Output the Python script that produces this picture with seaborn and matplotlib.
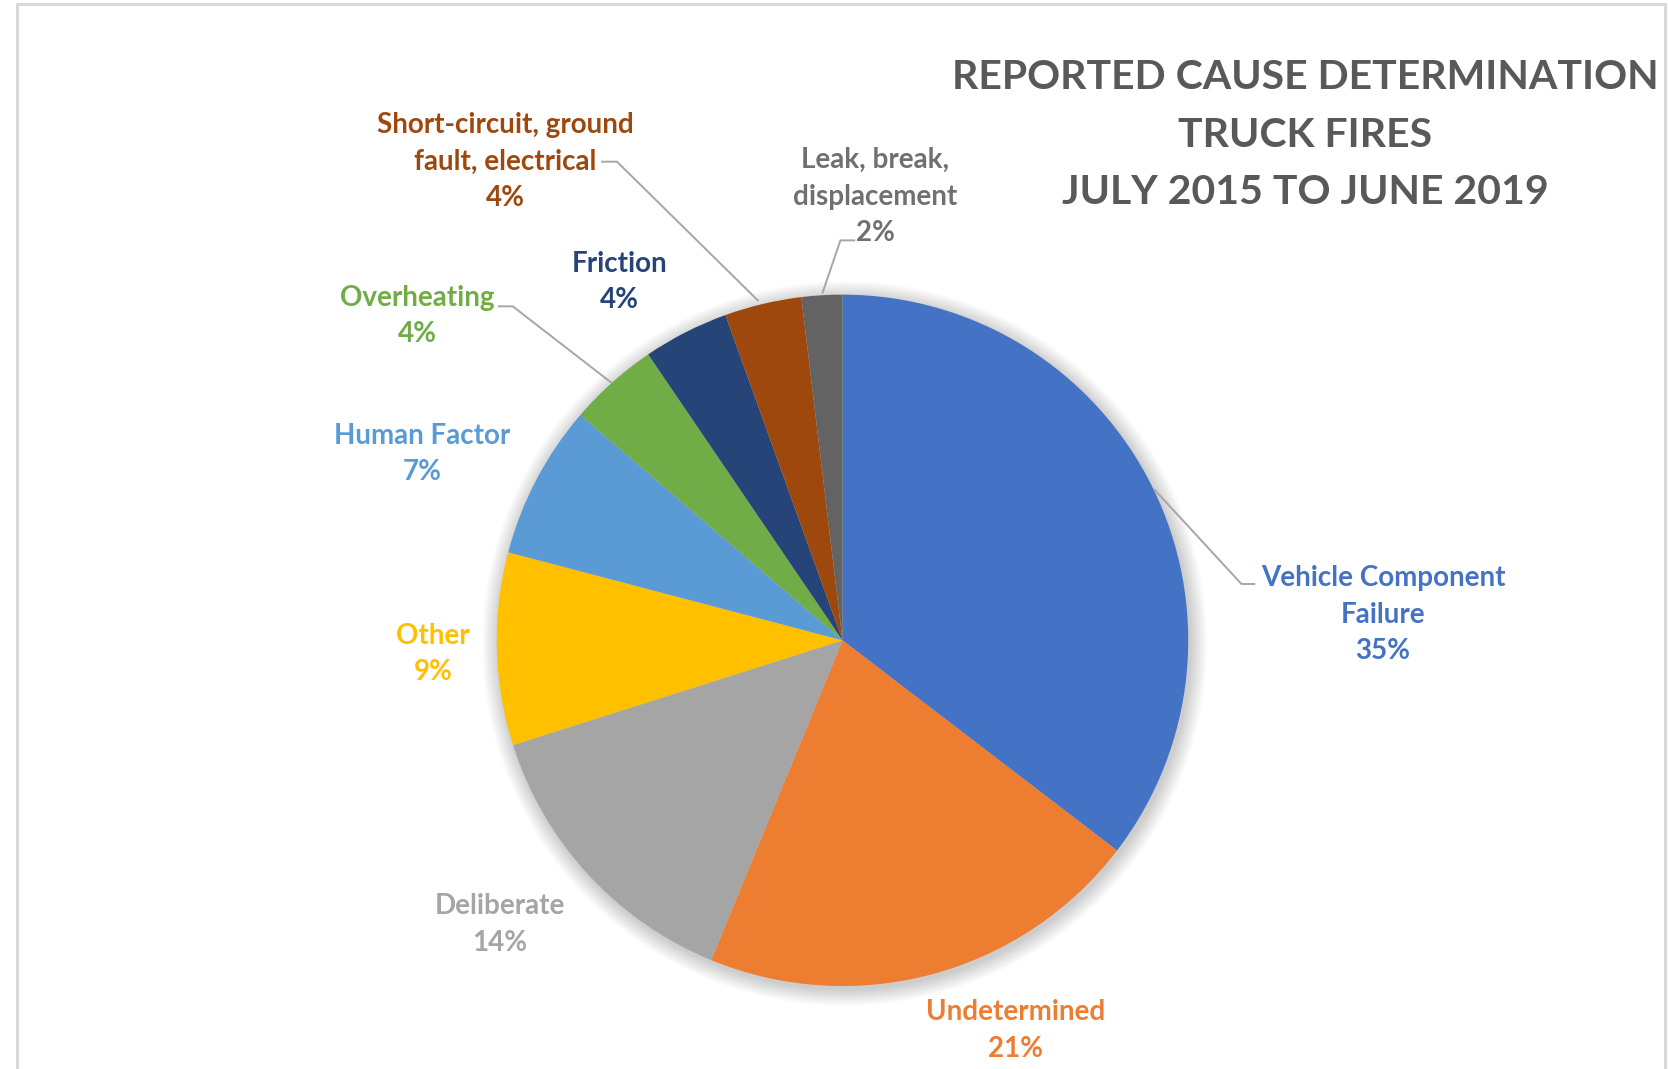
import matplotlib
matplotlib.use("Agg")
import matplotlib.pyplot as plt
import seaborn as sns
from matplotlib.patches import Circle

# ---------------- data ----------------
categories = [
    "Vehicle Component\nFailure",
    "Undetermined",
    "Deliberate",
    "Other",
    "Human Factor",
    "Overheating",
    "Friction",
    "Short-circuit, ground\nfault, electrical",
    "Leak, break,\ndisplacement",
]
shares = [35.4, 20.8, 13.9, 9.0, 7.2, 4.2, 4.0, 3.6, 1.9]
pct_labels = ["35%", "21%", "14%", "9%", "7%", "4%", "4%", "4%", "2%"]
title_lines = "REPORTED CAUSE DETERMINATION\nTRUCK FIRES\nJULY 2015 TO JUNE 2019"

slice_colors = ["#4472C4", "#ED7D31", "#A5A5A5", "#FFC000", "#5B9BD5",
                "#70AD47", "#264478", "#9E480E", "#636363"]
label_colors = ["#4472C4", "#ED7D31", "#A5A5A5", "#FFC000", "#5B9BD5",
                "#70AD47", "#264478", "#9E480E", "#707070"]

# ---------------- layout (reference pixel space 1568 x 1005) ----------------
W, H = 1568, 1005
def Y(y):
    return H - y

CX, CY, R = 792, 602, 325
label_pos = [(1300, 578), (955, 969), (470, 869), (407, 615), (397, 427),
             (392, 297), (582, 265), (475, 152), (823, 185)]
leaders = {
    0: [(1085, 460), (1167, 549), (1180, 549)],
    5: [(468, 288), (482, 288), (575, 360)],
    7: [(565, 152), (580, 152), (713, 283)],
    8: [(804, 226), (790, 226), (773, 276)],
}

sns.set_theme(style="white")
plt.rcParams["font.family"] = ["Lato", "DejaVu Sans"]

fig = plt.figure(figsize=(16.68, 10.69), dpi=100)
fig.patch.set_facecolor("white")
ax = fig.add_axes([0, 0, 1, 1])

# soft shadow
for k in range(10):
    ax.add_patch(Circle((CX + 2, Y(CY) - 3), R + 1 + k * 1.6, color="black",
                        alpha=0.018, lw=0, zorder=0))

ax.pie(shares, colors=slice_colors, startangle=90, counterclock=False,
       center=(CX, Y(CY)), radius=R, frame=True,
       wedgeprops=dict(linewidth=0))

for i, (cat, pct) in enumerate(zip(categories, pct_labels)):
    x, y = label_pos[i]
    ax.text(x, Y(y), f"{cat}\n{pct}", ha="center", va="center",
            fontsize=20, fontweight="bold", color=label_colors[i],
            linespacing=1.5, zorder=5)

for pts in leaders.values():
    xs = [p[0] for p in pts]
    ys = [Y(p[1]) for p in pts]
    ax.plot(xs, ys, color="#A6A6A6", lw=1.4, zorder=4, solid_capstyle="butt")

ax.text(1227, Y(127), title_lines, ha="center", va="center", fontsize=29.5,
        fontweight="bold", color="#595959", linespacing=1.68)

# frame border
ax.plot([16, 16], [Y(1010), Y(4)], color="#D9D9D9", lw=2.2)
ax.plot([16, 1565], [Y(4), Y(4)], color="#D9D9D9", lw=2.2)
ax.plot([1565, 1565], [Y(4), Y(1010)], color="#D9D9D9", lw=2.2)

ax.set_xlim(0, W)
ax.set_ylim(0, H)
ax.set_aspect("auto")
ax.axis("off")

fig.savefig("out.png", dpi=100, facecolor="white")
